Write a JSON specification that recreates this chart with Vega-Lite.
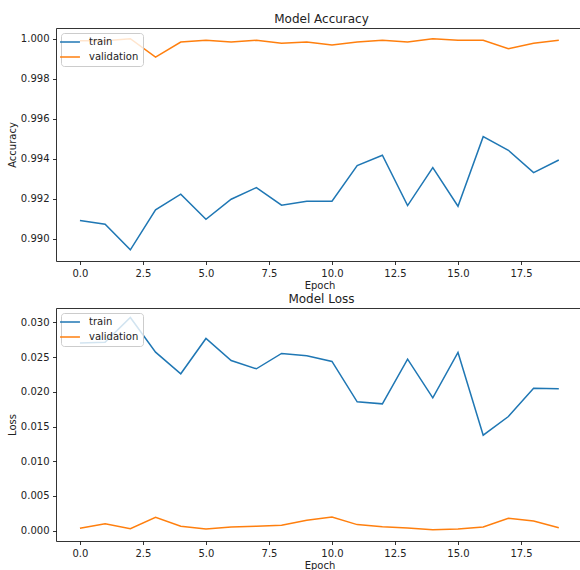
{
  "$schema": "https://vega.github.io/schema/vega-lite/v6.json",
  "padding": {"left": 7, "top": 13, "right": 0, "bottom": 0},
  "spacing": 3,
  "datasets": {
    "acc": [
      {"epoch": 0, "series": "train", "value": 0.9909},
      {"epoch": 1, "series": "train", "value": 0.99072},
      {"epoch": 2, "series": "train", "value": 0.98944},
      {"epoch": 3, "series": "train", "value": 0.99144},
      {"epoch": 4, "series": "train", "value": 0.99222},
      {"epoch": 5, "series": "train", "value": 0.99097},
      {"epoch": 6, "series": "train", "value": 0.99197},
      {"epoch": 7, "series": "train", "value": 0.99255},
      {"epoch": 8, "series": "train", "value": 0.99167},
      {"epoch": 9, "series": "train", "value": 0.99187},
      {"epoch": 10, "series": "train", "value": 0.99187},
      {"epoch": 11, "series": "train", "value": 0.99365},
      {"epoch": 12, "series": "train", "value": 0.99417},
      {"epoch": 13, "series": "train", "value": 0.99165},
      {"epoch": 14, "series": "train", "value": 0.99355},
      {"epoch": 15, "series": "train", "value": 0.99162},
      {"epoch": 16, "series": "train", "value": 0.9951},
      {"epoch": 17, "series": "train", "value": 0.99442},
      {"epoch": 18, "series": "train", "value": 0.9933},
      {"epoch": 19, "series": "train", "value": 0.99393},
      {"epoch": 0, "series": "validation", "value": 0.9999},
      {"epoch": 1, "series": "validation", "value": 0.9999},
      {"epoch": 2, "series": "validation", "value": 1.0},
      {"epoch": 3, "series": "validation", "value": 0.99908},
      {"epoch": 4, "series": "validation", "value": 0.99983},
      {"epoch": 5, "series": "validation", "value": 0.99992},
      {"epoch": 6, "series": "validation", "value": 0.99983},
      {"epoch": 7, "series": "validation", "value": 0.99992},
      {"epoch": 8, "series": "validation", "value": 0.99977},
      {"epoch": 9, "series": "validation", "value": 0.99983},
      {"epoch": 10, "series": "validation", "value": 0.99968},
      {"epoch": 11, "series": "validation", "value": 0.99983},
      {"epoch": 12, "series": "validation", "value": 0.99992},
      {"epoch": 13, "series": "validation", "value": 0.99983},
      {"epoch": 14, "series": "validation", "value": 1.0},
      {"epoch": 15, "series": "validation", "value": 0.99992},
      {"epoch": 16, "series": "validation", "value": 0.99992},
      {"epoch": 17, "series": "validation", "value": 0.9995},
      {"epoch": 18, "series": "validation", "value": 0.99977},
      {"epoch": 19, "series": "validation", "value": 0.99992}
    ],
    "loss": [
      {"epoch": 0, "series": "train", "value": 0.02702},
      {"epoch": 1, "series": "train", "value": 0.02716},
      {"epoch": 2, "series": "train", "value": 0.03072},
      {"epoch": 3, "series": "train", "value": 0.02572},
      {"epoch": 4, "series": "train", "value": 0.0226},
      {"epoch": 5, "series": "train", "value": 0.02769},
      {"epoch": 6, "series": "train", "value": 0.02452},
      {"epoch": 7, "series": "train", "value": 0.02332},
      {"epoch": 8, "series": "train", "value": 0.02553},
      {"epoch": 9, "series": "train", "value": 0.02519},
      {"epoch": 10, "series": "train", "value": 0.02438},
      {"epoch": 11, "series": "train", "value": 0.01856},
      {"epoch": 12, "series": "train", "value": 0.01827},
      {"epoch": 13, "series": "train", "value": 0.02471},
      {"epoch": 14, "series": "train", "value": 0.01913},
      {"epoch": 15, "series": "train", "value": 0.02567},
      {"epoch": 16, "series": "train", "value": 0.01375},
      {"epoch": 17, "series": "train", "value": 0.01644},
      {"epoch": 18, "series": "train", "value": 0.02053},
      {"epoch": 19, "series": "train", "value": 0.02043},
      {"epoch": 0, "series": "validation", "value": 0.00034},
      {"epoch": 1, "series": "validation", "value": 0.00101},
      {"epoch": 2, "series": "validation", "value": 0.00029},
      {"epoch": 3, "series": "validation", "value": 0.00192},
      {"epoch": 4, "series": "validation", "value": 0.00063},
      {"epoch": 5, "series": "validation", "value": 0.00024},
      {"epoch": 6, "series": "validation", "value": 0.00053},
      {"epoch": 7, "series": "validation", "value": 0.00063},
      {"epoch": 8, "series": "validation", "value": 0.00077},
      {"epoch": 9, "series": "validation", "value": 0.0015},
      {"epoch": 10, "series": "validation", "value": 0.00197},
      {"epoch": 11, "series": "validation", "value": 0.00087},
      {"epoch": 12, "series": "validation", "value": 0.00058},
      {"epoch": 13, "series": "validation", "value": 0.00038},
      {"epoch": 14, "series": "validation", "value": 0.00014},
      {"epoch": 15, "series": "validation", "value": 0.00024},
      {"epoch": 16, "series": "validation", "value": 0.00053},
      {"epoch": 17, "series": "validation", "value": 0.00178},
      {"epoch": 18, "series": "validation", "value": 0.00139},
      {"epoch": 19, "series": "validation", "value": 0.00043}
    ]
  },
  "vconcat": [
    {
      "title": {"text": "Model Accuracy", "dx": 2},
      "width": 527,
      "height": 233,
      "data": {"name": "acc"},
      "layer": [
        {
          "mark": {"type": "line", "strokeWidth": 1.5},
          "encoding": {
            "x": {"field": "epoch", "type": "quantitative", "scale": {"domain": [-0.95, 19.96], "nice": false, "zero": false},
                  "axis": {"values": [0, 2.5, 5, 7.5, 10, 12.5, 15, 17.5], "format": ".1f", "title": "Epoch"}},
            "y": {"field": "value", "type": "quantitative", "scale": {"domain": [0.98888, 1.000535], "nice": false, "zero": false},
                  "axis": {"values": [0.990, 0.992, 0.994, 0.996, 0.998, 1.000], "format": ".3f", "title": "Accuracy"}},
            "color": {"field": "series", "type": "nominal", "scale": {"domain": ["train", "validation"], "range": ["#1f77b4", "#ff7f0e"]}, "legend": {"title": null}}
          }
        },
        {
          "mark": {"type": "point", "opacity": 0},
          "encoding": {
            "x": {"field": "epoch", "type": "quantitative", "scale": {"domain": [-0.95, 19.96], "nice": false, "zero": false},
                  "axis": {"orient": "top", "labels": false, "ticks": false, "title": null, "domain": true}}
          }
        }
      ],
      "resolve": {"axis": {"x": "independent"}}
    },
    {
      "title": {"text": "Model Loss", "dx": 2},
      "width": 527,
      "height": 233,
      "data": {"name": "loss"},
      "layer": [
        {
          "mark": {"type": "line", "strokeWidth": 1.5},
          "encoding": {
            "x": {"field": "epoch", "type": "quantitative", "scale": {"domain": [-0.95, 19.96], "nice": false, "zero": false},
                  "axis": {"values": [0, 2.5, 5, 7.5, 10, 12.5, 15, 17.5], "format": ".1f", "title": "Epoch"}},
            "y": {"field": "value", "type": "quantitative", "scale": {"domain": [-0.00149, 0.03208], "nice": false, "zero": false},
                  "axis": {"values": [0, 0.005, 0.010, 0.015, 0.020, 0.025, 0.030], "format": ".3f", "title": "Loss"}},
            "color": {"field": "series", "type": "nominal", "scale": {"domain": ["train", "validation"], "range": ["#1f77b4", "#ff7f0e"]}, "legend": {"title": null}}
          }
        },
        {
          "mark": {"type": "point", "opacity": 0},
          "encoding": {
            "x": {"field": "epoch", "type": "quantitative", "scale": {"domain": [-0.95, 19.96], "nice": false, "zero": false},
                  "axis": {"orient": "top", "labels": false, "ticks": false, "title": null, "domain": true}}
          }
        }
      ],
      "resolve": {"axis": {"x": "independent"}}
    }
  ],
  "resolve": {"scale": {"color": "independent"}, "legend": {"color": "independent"}},
  "config": {
    "font": "DejaVu Sans",
    "view": {"stroke": null},
    "axis": {
      "grid": false,
      "domainColor": "#000000",
      "domainWidth": 0.8,
      "tickColor": "#000000",
      "tickWidth": 0.8,
      "tickSize": 3.5,
      "labelColor": "#222222",
      "labelFontSize": 10,
      "labelPadding": 3.5,
      "titleColor": "#222222",
      "titleFontSize": 10,
      "titleFontWeight": "normal",
      "titlePadding": 2
    },
    "axisY": {"titlePadding": 3},
    "title": {"fontSize": 12, "fontWeight": "normal", "color": "#222222", "offset": 2},
    "legend": {
      "orient": "top-left",
      "offset": 5,
      "strokeColor": "#cccccc",
      "fillColor": "rgba(255,255,255,0.8)",
      "cornerRadius": 3,
      "padding": 4,
      "labelFontSize": 10,
      "labelColor": "#222222",
      "symbolType": "M-3,0H3",
      "symbolSize": 44,
      "symbolStrokeWidth": 1.5,
      "labelOffset": 14,
      "rowPadding": 5
    }
  }
}
